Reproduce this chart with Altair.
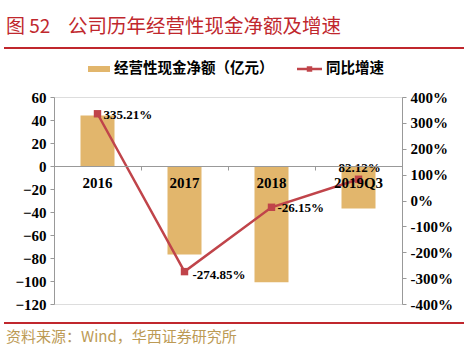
import altair as alt
import pandas as pd

categories = ["2016", "2017", "2018", "2019Q3"]
cash_net = [44, -77, -101, -37]
growth = [335.21, -274.85, -26.15, 82.12]
growth_labels = ["335.21%", "-274.85%", "-26.15%", "82.12%"]
label_dx = [6, 8, 6, -20]
label_dy = [1, 3, 1, -11]
left_ticks = [60, 40, 20, 0, -20, -40, -60, -80, -100, -120]
right_ticks = [400, 300, 200, 100, 0, -100, -200, -300, -400]

df = pd.DataFrame({"cat": categories, "cash": cash_net, "g": growth,
                   "glab": growth_labels})

BAR = "#E2B66C"
LINE = "#C0444A"
RED = "#C0272D"
SERIF = "Liberation Serif"
CJK = "Noto Sans CJK SC"

W, H = 348, 207

xscale = alt.Scale(domain=categories, paddingInner=0, paddingOuter=0)
xenc = alt.X("cat:N", scale=xscale, sort=categories,
             axis=alt.Axis(title=None, labelAngle=0, offset=-138, domainColor="#999999",
                           tickColor="#999999", tickSize=4, labelFont=SERIF, labelFontWeight="bold",
                           labelFontSize=15, labelColor="#000000", labelPadding=5,
                           bandPosition=0, zindex=1, labelOverlap=False))

bars = alt.Chart(df).mark_bar(color=BAR, width=34).encode(
    x=xenc,
    y=alt.Y("cash:Q", scale=alt.Scale(domain=[-120, 60], nice=False, zero=False),
            axis=alt.Axis(title=None, values=left_ticks, grid=False, domainColor="#999999",
                          tickColor="#999999", tickSize=4, labelFont=SERIF, labelFontWeight="bold",
                          labelFontSize=15, labelColor="#000000", labelPadding=4)),
)

yr = alt.Y("g:Q", scale=alt.Scale(domain=[-400, 400], nice=False),
           axis=alt.Axis(title=None, orient="right", values=right_ticks, grid=False,
                         domainColor="#999999", tickColor="#999999", tickSize=4,
                         labelFont=SERIF, labelFontWeight="bold", labelFontSize=15,
                         labelColor="#000000", labelPadding=4,
                         labelExpr="datum.value + '%'"))

line = alt.Chart(df).mark_line(color=LINE, strokeWidth=2.5).encode(x=xenc, y=yr)
pts = alt.Chart(df).mark_square(color=LINE, size=55, opacity=1).encode(x=xenc, y=yr)

labs = []
for i in range(len(categories)):
    sub = df.iloc[[i]]
    labs.append(alt.Chart(sub).mark_text(font=SERIF, fontWeight="bold", fontSize=13, align="left",
                                         baseline="middle", dx=int(label_dx[i]), dy=int(label_dy[i]),
                                         color="#000000").encode(
        x=xenc, y=yr, text="glab:N"))

rightl = alt.layer(line, pts, *labs)

# decorations (title, rules, legend, source)
deco_df = pd.DataFrame({"k": [0]})
base = alt.Chart(deco_df)
title1 = base.mark_text(text="图 52", font=CJK, fontSize=19,
                        color=RED, align="left", baseline="middle").encode(
    x=alt.value(-48), y=alt.value(-70))
title2 = base.mark_text(text="公司历年经营性现金净额及增速", font=CJK, fontSize=19.5,
                        color=RED, align="left", baseline="middle").encode(
    x=alt.value(14), y=alt.value(-70))
rule_top = base.mark_rule(color=RED, strokeWidth=2).encode(
    x=alt.value(-50), x2=alt.value(410), y=alt.value(-49))
rule_bot = base.mark_rule(color=RED, strokeWidth=2).encode(
    x=alt.value(-50), x2=alt.value(410), y=alt.value(226))
source = base.mark_text(text="资料来源：Wind，华西证券研究所", font=CJK, fontSize=15,
                        color="#BC9A55", align="left", baseline="middle").encode(
    x=alt.value(-48), y=alt.value(240))
leg_rect = base.mark_rect(color=BAR).encode(
    x=alt.value(34), x2=alt.value(56), y=alt.value(-31), y2=alt.value(-25))
leg_t1 = base.mark_text(text="经营性现金净额（亿元）", font=CJK, fontSize=14.5, fontWeight="bold",
                        color="#000000", align="left", baseline="middle").encode(
    x=alt.value(60), y=alt.value(-28))
leg_line = base.mark_rule(color=LINE, strokeWidth=2.5).encode(
    x=alt.value(243), x2=alt.value(268), y=alt.value(-28))
leg_sq = base.mark_square(color=LINE, size=30, opacity=1).encode(
    x=alt.value(255.5), y=alt.value(-28))
leg_t2 = base.mark_text(text="同比增速", font=CJK, fontSize=14.5, fontWeight="bold",
                        color="#000000", align="left", baseline="middle").encode(
    x=alt.value(272), y=alt.value(-28))

main = alt.layer(bars, rightl).resolve_scale(y="independent")
chart = alt.layer(main, title1, title2, rule_top, rule_bot, source, leg_rect, leg_t1, leg_line, leg_sq, leg_t2).properties(
    width=W, height=H,
    autosize=alt.AutoSizeParams(type="none"),
    padding={"left": 54, "top": 97, "right": 72, "bottom": 49},
).configure_view(stroke=None).configure(background="#FFFFFF")

chart.save("out.html", embed_options={"renderer": "svg", "actions": False})
